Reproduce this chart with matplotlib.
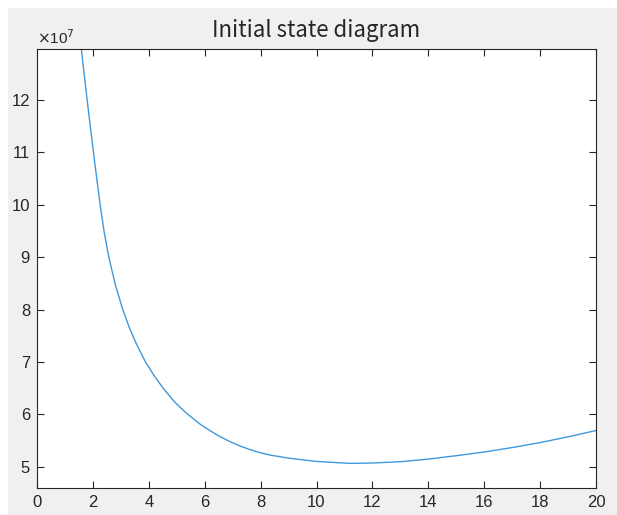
"""Initial state diagram, redrawn in matplotlib."""

import matplotlib
matplotlib.use("Agg")
import matplotlib.pyplot as plt
from matplotlib.patches import Rectangle

# values (y in units of 1e7)
x_vals = [1.57, 1.585, 1.75, 1.92, 2.09, 2.26, 2.40, 2.57, 2.80, 3.05,
          3.30, 3.55, 3.86, 4.20, 4.54, 4.95, 5.37, 5.84, 6.20, 6.56,
          6.90, 7.24, 7.60, 8.0, 8.34, 9.0, 10.0, 11.2, 12.0, 13.0,
          14.0, 15.0, 16.0, 17.0, 18.0, 19.0, 20.0]
y_vals = [13.06, 12.98, 12.20, 11.44, 10.70, 10.00, 9.49, 9.00, 8.48, 8.03,
          7.66, 7.35, 7.02, 6.73, 6.48, 6.22, 6.01, 5.81, 5.685, 5.57,
          5.48, 5.40, 5.33, 5.265, 5.222, 5.163, 5.10, 5.063, 5.07, 5.095,
          5.145, 5.21, 5.28, 5.365, 5.46, 5.57, 5.69]
x_ticks = list(range(0, 21, 2))
y_ticks = [5, 6, 7, 8, 9, 10, 11, 12]

W, H = 617, 515
fig = plt.figure(figsize=(W / 100, H / 100), dpi=100, facecolor="white")
fig.patches.append(Rectangle((8 / W, 0), 1, 1 - 8 / H, transform=fig.transFigure,
                             facecolor="#f0f0f0", edgecolor="none", zorder=-1))

ax = fig.add_axes([37 / W, 1 - 488 / H, (596 - 37) / W, (488 - 49) / H])
ax.plot(x_vals, y_vals, color="#3f98db", linewidth=1.0)
ax.set_xlim(0, 20)
ax.set_ylim(4.593, 12.975)
ax.set_xticks(x_ticks)
ax.set_yticks(y_ticks)

dark = "#262626"
for side in ax.spines.values():
    side.set_color(dark)
    side.set_linewidth(0.8)
ax.tick_params(direction="in", length=5, width=0.8, color=dark, labelcolor=dark,
               labelsize=12, top=True, right=True, pad=5)
for lab in ax.get_xticklabels() + ax.get_yticklabels():
    lab.set_family(["Liberation Sans", "DejaVu Sans"])

fig.text((37 + 596) / 2 / W, 1 - 36.7 / H, "Initial state diagram", fontsize=16,
         color=dark, ha="center", va="baseline",
         family=["Noto Sans CJK SC", "DejaVu Sans"])
ax.text(0, 1.005, r"$\times$10$^{7}$", transform=ax.transAxes, fontsize=11,
        color=dark, ha="left", va="bottom", family=["Liberation Sans", "DejaVu Sans"])

fig.savefig("out.png", dpi=100, facecolor=fig.get_facecolor())
